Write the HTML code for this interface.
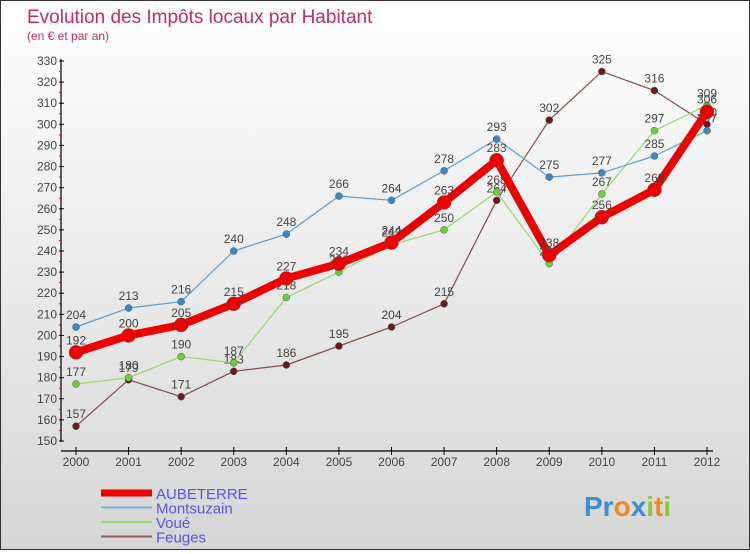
<!DOCTYPE html>
<html><head><meta charset="utf-8"><style>
html,body{margin:0;padding:0}
body{width:750px;height:550px;overflow:hidden;font-family:"Liberation Sans",sans-serif}
#wrap{position:relative;width:748px;height:548px;border:1px solid #333;background:linear-gradient(#ffffff,#d6d6d6)}
</style></head><body>
<div id="wrap">
<svg id="chart" width="748" height="548" xmlns="http://www.w3.org/2000/svg">
<text x="26" y="22" font-size="19" fill="#c0305a">Evolution des Impôts locaux par Habitant</text>
<text x="26" y="39" font-size="12" fill="#c0305a">(en € et par an)</text>
<g id="axes"></g><g id="series"></g><g id="legend"></g>
<text x="583" y="515" font-size="28" font-weight="bold"><tspan fill="#3a8fd0">Pr</tspan><tspan fill="#f08a20">o</tspan><tspan fill="#3a8fd0">x</tspan><tspan fill="#8cc63f">i</tspan><tspan fill="#f08a20">t</tspan><tspan fill="#8cc63f">i</tspan></text>
</svg>
</div>
<script>
const years=[2000,2001,2002,2003,2004,2005,2006,2007,2008,2009,2010,2011,2012];
const aubeterre=[192,200,205,215,227,234,244,263,283,238,256,269,306];
const montsuzain=[204,213,216,240,248,266,264,278,293,275,277,285,297];
const voue=[177,180,190,187,218,230,243,250,268,234,267,297,309];
const feuges=[157,179,171,183,186,195,204,215,264,302,325,316,300];
const yTicks=[150,160,170,180,190,200,210,220,230,240,250,260,270,280,290,300,310,320,330];
const NS='http://www.w3.org/2000/svg';
const x=i=>75+i*(631/12);
const y=v=>440-(v-150)*(380/180);
function mk(tag,attrs,parent,txt){const e=document.createElementNS(NS,tag);for(const k in attrs)e.setAttribute(k,attrs[k]);if(txt!==undefined)e.textContent=txt;parent.appendChild(e);return e;}
const axes=document.getElementById('axes');
const ya=mk('line',{x1:60,y1:58,x2:60,y2:441,stroke:'#000','stroke-width':1.2},axes);


yTicks.forEach(v=>{
  mk('line',{x1:58,y1:y(v),x2:63,y2:y(v),stroke:'#000'},axes);
  if(v<330)mk('line',{x1:58,y1:y(v+5),x2:60,y2:y(v+5),stroke:'#e00'},axes);
  const t=mk('text',{x:56,y:y(v)+4,'font-size':12,fill:'#444','text-anchor':'end'},axes,v);
  
  
});
const xa=mk('line',{x1:60,y1:450,x2:712,y2:450,stroke:'#000','stroke-width':1.2},axes);


years.forEach((yr,i)=>{
  mk('line',{x1:x(i),y1:446,x2:x(i),y2:454,stroke:'#000'},axes);
  const t=mk('text',{x:x(i),y:465,'font-size':12,fill:'#444','text-anchor':'middle'},axes,yr);
  
  
});
const ser=document.getElementById('series');
function draw(vals,color,w,r,name,dot){
  const g=mk('g',{},ser);
  
  
  mk('polyline',{points:vals.map((v,i)=>x(i)+','+y(v)).join(' '),fill:'none',stroke:color,'stroke-width':w,'stroke-linejoin':'round'},g);
  vals.forEach((v,i)=>{
    const c=mk('circle',{cx:x(i),cy:y(v),r:r,fill:dot,stroke:'#555','stroke-width':0.5},g);
    
    
    mk('text',{x:x(i),y:y(v)-8,'font-size':12,fill:'#444','text-anchor':'middle'},g,v);
  });
}
draw(feuges,'#8b4a4a',1.2,3.5,'feuges','#6b1a1a');
draw(voue,'#8fdc6a',1.2,3.5,'voue','#6ccf3a');
draw(montsuzain,'#5a9fd0',1.2,3.5,'montsuzain','#3a88c8');
draw(aubeterre,'#ee0000',8,7,'aubeterre','#ee0000');
const lg=document.getElementById('legend');
const items=[['AUBETERRE','#ee0000',7],['Montsuzain','#7ab0d8',2],['Voué','#90dc70',2],['Feuges','#9a5a5a',2]];
items.forEach((it,i)=>{
  const g=mk('g',{},lg);
  
  
  const yy=492+i*14.5;
  mk('line',{x1:100,y1:yy,x2:151,y2:yy,stroke:it[1],'stroke-width':it[2]},g);
  mk('text',{x:155,y:yy+6,'font-size':15,fill:'#5555ee'},g,it[0]);
});
</script>
</body></html>
